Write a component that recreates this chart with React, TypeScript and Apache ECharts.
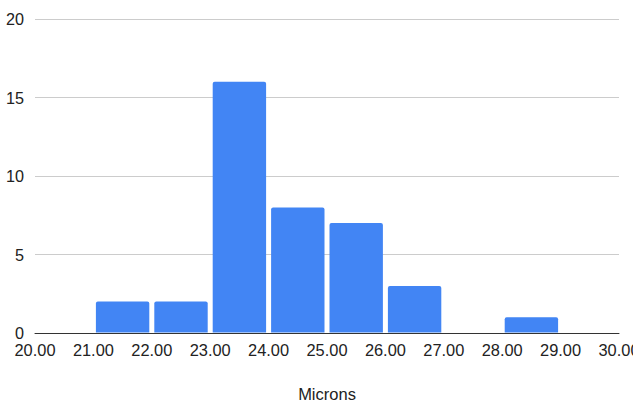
import React, { useEffect, useRef } from "react";
import * as echarts from "echarts";

const binStarts = [20, 21, 22, 23, 24, 25, 26, 27, 28, 29];
const binEnds = [21, 22, 23, 24, 25, 26, 27, 28, 29, 30];
const counts = [0, 2, 2, 16, 8, 7, 3, 0, 1, 0];
const xTitle = "Microns";

export default function App() {
  const ref = useRef<HTMLDivElement>(null);
  useEffect(() => {
    if (!ref.current) return;
    const chart = echarts.init(ref.current, null, { renderer: "svg" });
    const data = binStarts.map((s, i) => [s, binEnds[i], counts[i]]);
    chart.setOption({
      animation: false,
      backgroundColor: "#ffffff",
      grid: { left: 35, right: 14, top: 19, bottom: 70, containLabel: false, outerBoundsMode: "none" },
      xAxis: {
        type: "value",
        min: 20,
        max: 30,
        interval: 1,
        name: xTitle,
        nameLocation: "middle",
        nameGap: 52,
        nameTextStyle: { color: "#222", fontSize: 16.5, fontFamily: "Liberation Sans, Arial, sans-serif" },
        axisLine: { show: true, lineStyle: { color: "#333", width: 1 } },
        axisTick: { show: false },
        splitLine: { show: false },
        axisLabel: {
          color: "#222",
          fontSize: 16.4,
          fontFamily: "Liberation Sans, Arial, sans-serif",
          margin: 9,
          formatter: (v: number) => v.toFixed(2),
          showMinLabel: true,
          showMaxLabel: true,
          hideOverlap: false,
        },
      },
      yAxis: {
        type: "value",
        min: 0,
        max: 20,
        interval: 5,
        axisLine: { show: false },
        axisTick: { show: false },
        splitLine: { lineStyle: { color: "#cccccc", width: 1 } },
        axisLabel: {
          color: "#222",
          fontSize: 16.2,
          fontFamily: "Liberation Sans, Arial, sans-serif",
          margin: 11,
        },
      },
      series: [
        {
          type: "custom",
          data,
          encode: { x: [0, 1], y: 2 },
          renderItem: (params: any, api: any) => {
            const v = api.value(2);
            if (!v) return null;
            const p0 = api.coord([api.value(0), v]);
            const p1 = api.coord([api.value(1), 0]);
            const gap = 2.5;
            return {
              type: "rect",
              shape: {
                x: p0[0] + gap,
                y: p0[1],
                width: p1[0] - p0[0] - gap * 2,
                height: p1[1] - p0[1] - 0.5,
                r: [2, 2, 0, 0],
              },
              style: { fill: "#4285f4" },
            };
          },
          z: 3,
        },
      ],
    });
    return () => chart.dispose();
  }, []);
  return (
    <div
      ref={ref}
      style={{ position: "fixed", left: 0, top: 0, width: 633, height: 403 }}
    />
  );
}
